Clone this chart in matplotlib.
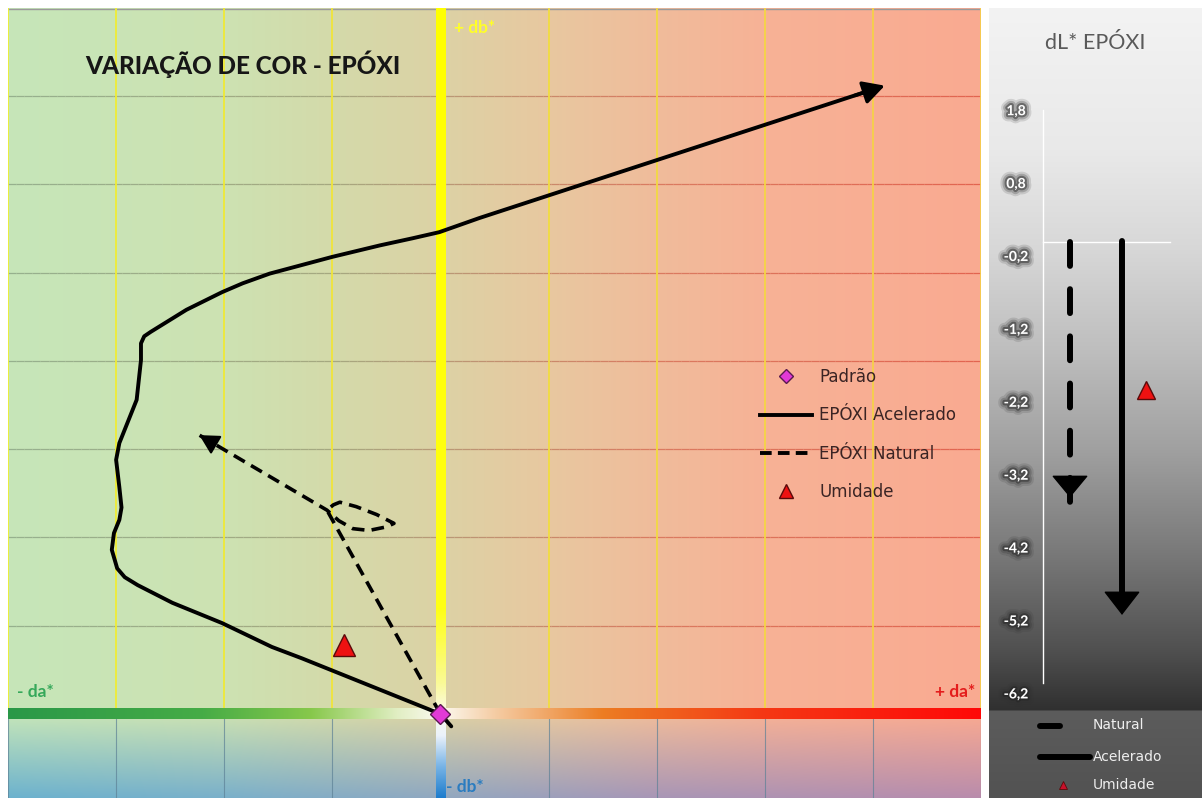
import numpy as np
import matplotlib
matplotlib.use("Agg")
import matplotlib.pyplot as plt
import matplotlib.patheffects as pe
from matplotlib.collections import LineCollection
from matplotlib.lines import Line2D

# ---------------- data ----------------
# colour change path in the da*/db* plane (accelerated weathering)
acc_da = [0.10, 0.00, -1.28, -1.56, -2.02, -2.48, -2.80, -2.92, -2.99, -3.04, -3.02, -2.97,
          -2.95, -2.97, -3.00, -2.97, -2.81, -2.77, -2.77, -2.74, -2.68, -2.35, -2.02, -1.83,
          -1.58, -1.00, -0.56, -0.26, -0.01, 0.36, 4.11]
acc_db = [-0.14, 0.00, 0.63, 0.76, 1.03, 1.26, 1.46, 1.55, 1.65, 1.86, 2.05, 2.20,
          2.34, 2.57, 2.88, 3.07, 3.56, 4.01, 4.20, 4.28, 4.33, 4.58, 4.78, 4.88,
          4.99, 5.18, 5.31, 5.39, 5.46, 5.62, 7.12]

# colour change path (natural weathering)
nat_da = [0.00, -1.05, -0.99, -0.93, -0.78, -0.59, -0.43, -0.50, -0.66, -0.81, -0.94, -1.05, -2.23]
nat_db = [0.00, 2.31, 2.37, 2.40, 2.35, 2.26, 2.16, 2.12, 2.08, 2.10, 2.19, 2.31, 3.16]

# reference sample and humidity exposure
ref_da, ref_db = 0.0, 0.0
hum_da, hum_db = -0.89, 0.78

# lightness change dL*
dl_natural = -3.5
dl_accel = -5.11
dl_humidity = -2.02
dl_ticks = [1.8, 0.8, -0.2, -1.2, -2.2, -3.2, -4.2, -5.2, -6.2]

legend_labels = ["Padrão", "EPÓXI Acelerado", "EPÓXI Natural", "Umidade"]
side_labels = ["Natural", "Acelerado", "Umidade"]

# ---------------- figure ----------------
W, H = 1202, 798
fig = plt.figure(figsize=(W / 100, H / 100), dpi=100)
fig.patch.set_facecolor("white")


def px_axes(x0, y0, x1, y1):
    return fig.add_axes([x0 / W, 1 - y1 / H, (x1 - x0) / W, (y1 - y0) / H])


def interp_colors(x, pos, cols):
    cols = np.asarray(cols, float) / 255.0
    return np.stack([np.interp(x, pos, cols[:, i]) for i in range(3)], axis=-1)


# ---------------- main da*/db* panel ----------------
XMIN, XMAX, YMIN, YMAX = -4.0, 5.0, -0.952, 8.0
ax = px_axes(8, 8, 981, 798)
ax.set_xlim(XMIN, XMAX)
ax.set_ylim(YMIN, YMAX)
ax.axis("off")

xs = np.linspace(XMIN, XMAX, 901)
ys = np.linspace(YMIN, YMAX, 800)
top_row = interp_colors(xs, [-4, -2, -1, 0, 1, 2, 3, 5],
                        [(198, 230, 185), (205, 226, 178), (212, 218, 170), (220, 210, 165),
                         (232, 200, 160), (240, 188, 155), (247, 178, 150), (250, 170, 145)])
bot_row = interp_colors(xs, [-4, -2, 0, 2, 5],
                        [(108, 178, 206), (122, 176, 202), (145, 168, 192), (168, 150, 182),
                         (185, 140, 172)])
t = np.clip(-ys / abs(YMIN), 0, 1)[:, None, None]
bg = np.where(ys[:, None, None] >= 0, top_row[None, :, :],
              (1 - t) * top_row[None, :, :] + t * bot_row[None, :, :])
ax.imshow(bg, origin="lower", extent=[XMIN, XMAX, YMIN, YMAX], aspect="auto",
          interpolation="bilinear", zorder=0)

# horizontal grid lines, tinted along their length
seg_x = np.linspace(XMIN, XMAX, 121)
seg_cols = interp_colors((seg_x[:-1] + seg_x[1:]) / 2, [-4, -1, 0, 2, 5],
                         [(150, 176, 142), (165, 168, 128), (185, 152, 118), (218, 122, 96),
                          (226, 100, 80)])
segs, cols = [], []
for yy in range(1, 8):
    for i in range(len(seg_x) - 1):
        segs.append([(seg_x[i], yy), (seg_x[i + 1], yy)])
        cols.append(seg_cols[i])
ax.add_collection(LineCollection(segs, colors=cols, linewidths=0.9, zorder=1))
ax.plot([XMIN, XMAX], [YMAX - 0.01, YMAX - 0.01], color="#9a9a9a", lw=1.0, zorder=1)

# vertical grid lines
vcols = interp_colors(np.arange(-4, 6), [-4, 0, 5],
                      [(238, 240, 50), (240, 225, 60), (246, 205, 75)])
for i, xx in enumerate(range(-4, 6)):
    if xx == 0:
        continue
    ax.plot([xx, xx], [0, YMAX], color=vcols[i], lw=1.3, zorder=1)
    ax.plot([xx, xx], [YMIN, 0], color="#5d8196", lw=0.8, alpha=0.7, zorder=1)

# central db* bar (yellow above, blue below)
bar_hw = 0.042
vy = np.linspace(YMIN, YMAX, 600)
vbar = interp_colors(vy, [YMIN, -0.6, -0.25, 0.0, 0.35, 1.2, YMAX],
                     [(30, 125, 205), (120, 180, 230), (235, 242, 250), (250, 250, 235),
                      (250, 250, 150), (255, 255, 20), (255, 255, 0)])
ax.imshow(vbar[:, None, :], origin="lower", extent=[-bar_hw, bar_hw, YMIN, YMAX],
          aspect="auto", interpolation="bilinear", zorder=2)

# da* bar (green - white - orange - red)
bar_hh = 0.057
hx = np.linspace(XMIN, XMAX, 900)
hbar = interp_colors(hx, [-4, -2.2, -1.2, -0.4, 0.0, 0.5, 1.5, 3.0, 5.0],
                     [(42, 152, 72), (70, 172, 70), (135, 200, 75), (225, 238, 195),
                      (252, 250, 240), (245, 205, 165), (236, 125, 35), (245, 55, 20),
                      (255, 8, 8)])
ax.imshow(hbar[None, :, :], origin="lower", extent=[XMIN, XMAX, -bar_hh, bar_hh],
          aspect="auto", interpolation="bilinear", zorder=2)
ax.set_xlim(XMIN, XMAX)
ax.set_ylim(YMIN, YMAX)

# accelerated path + arrow head
adx, ady = acc_da[-1] - acc_da[-2], acc_db[-1] - acc_db[-2]
anrm = np.hypot(adx, ady)
ax.plot(acc_da[:-1] + [acc_da[-1] - 0.12 * adx / anrm],
        acc_db[:-1] + [acc_db[-1] - 0.12 * ady / anrm],
        color="black", lw=2.8, solid_joinstyle="round", solid_capstyle="round", zorder=3)
ax.annotate("", xy=(acc_da[-1], acc_db[-1]),
            xytext=(acc_da[-1] - 0.3 * adx / anrm, acc_db[-1] - 0.3 * ady / anrm),
            arrowprops=dict(arrowstyle="-|>,head_length=1.3,head_width=0.7", mutation_scale=10,
                            color="black", lw=2.5, shrinkA=0, shrinkB=0), zorder=3)

# natural path + arrow head
ax.plot(nat_da, nat_db, color="black", lw=2.6, linestyle=(0, (3.5, 2.0)),
        solid_joinstyle="round", zorder=3)
dx, dy = nat_da[-1] - nat_da[-2], nat_db[-1] - nat_db[-2]
nrm = np.hypot(dx, dy)
ax.annotate("", xy=(nat_da[-1], nat_db[-1]),
            xytext=(nat_da[-1] - 0.15 * dx / nrm, nat_db[-1] - 0.15 * dy / nrm),
            arrowprops=dict(arrowstyle="-|>,head_length=1.2,head_width=0.65", mutation_scale=10,
                            color="black", lw=1.5, shrinkA=0, shrinkB=0), zorder=3)

# markers
ax.plot([ref_da], [ref_db], marker="D", ms=10, mfc="#e23ad6", mec="#5a1a50", mew=1.0,
        ls="none", zorder=4)
ax.plot([hum_da], [hum_db], marker="^", ms=16, mfc="#ee1111", mec="#5a0a0a", mew=1.0,
        ls="none", zorder=4)

# texts
ax.text(-1.83, 7.36, "VARIAÇÃO DE COR - EPÓXI", fontsize=17.5, fontweight="black",
        family="Lato", color="#161616", ha="center", va="center", zorder=5)
ax.text(0.13, 7.77, "+ db*", fontsize=12.5, fontweight="bold", family="Lato",
        color="#ffff28", ha="left", va="center", zorder=5)
ax.text(0.05, -0.83, "- db*", fontsize=12.5, fontweight="bold", family="Lato",
        color="#2a7cc0", ha="left", va="center", zorder=5)
ax.text(-3.92, 0.25, "- da*", fontsize=12.5, fontweight="bold", family="Lato",
        color="#35a85a", ha="left", va="center", zorder=5)
ax.text(4.95, 0.25, "+ da*", fontsize=12.5, fontweight="bold", family="Lato",
        color="#e41c1c", ha="right", va="center", zorder=5)

handles = [
    Line2D([], [], marker="D", ms=7, mfc="#e23ad6", mec="#5a1a50", mew=1.0, ls="none"),
    Line2D([], [], color="black", lw=2.8),
    Line2D([], [], color="black", lw=2.8, linestyle=(0, (3.0, 1.6))),
    Line2D([], [], marker="^", ms=10, mfc="#ee1111", mec="#5a0a0a", mew=1.0, ls="none"),
]
leg = ax.legend(handles, legend_labels, loc="upper left",
                bbox_to_anchor=(760 / W, 1 - 368 / H), bbox_transform=fig.transFigure,
                frameon=False, fontsize=12, handlelength=3.1, handletextpad=0.45,
                labelspacing=1.22, borderpad=0, borderaxespad=0)
for txt in leg.get_texts():
    txt.set_color("#3a2424")
leg.set_zorder(5)

# ---------------- dL* side panel ----------------
ax2 = px_axes(989, 8, 1202, 798)
Y0PX, SCALE = 242.4, 72.9  # pixel row of dL*=0 and pixels per unit


def pv(py):
    return (Y0PX - py) / SCALE


ax2.set_xlim(0, 213)
ax2.set_ylim(pv(798), pv(8))
ax2.axis("off")

rows = np.arange(8, 798)
gray = np.interp(rows, [8, 150, 250, 350, 450, 550, 650, 709, 711, 798],
                 [243, 233, 215, 190, 160, 122, 80, 48, 92, 82])
side_bg = np.repeat((gray / 255.0)[:, None, None], 3, axis=2)
ax2.imshow(side_bg, origin="upper", extent=[0, 213, pv(798), pv(8)], aspect="auto",
           interpolation="bilinear", zorder=0)
ax2.set_xlim(0, 213)
ax2.set_ylim(pv(798), pv(8))

ax2.text(106, pv(43), "dL* EPÓXI", fontsize=15.5, family="Lato", color="#5a5a5a",
         ha="center", va="center", zorder=5)

# axis lines
ax2.plot([54, 54], [1.82, -6.05], color="white", lw=1.0, zorder=1)
ax2.plot([54, 181], [0, 0], color="white", lw=1.0, zorder=1)

glow = [pe.Stroke(linewidth=9, foreground="#303030", alpha=0.15),
        pe.Stroke(linewidth=6, foreground="#303030", alpha=0.25),
        pe.Stroke(linewidth=3, foreground="#202020", alpha=0.45), pe.Normal()]
for v in dl_ticks:
    ax2.text(27, v, f"{v:.1f}".replace(".", ","), fontsize=10, fontweight="bold",
             family="Lato", color="white", ha="center", va="center", zorder=5,
             path_effects=glow)

# natural dL* arrow
ax2.plot([81, 81], [0, dl_natural - 0.25], color="black", lw=4.3,
         linestyle=(0, (4.0, 3.9)), dash_capstyle="round", zorder=3)
ax2.annotate("", xy=(81, dl_natural), xytext=(81, dl_natural + 0.2),
             arrowprops=dict(arrowstyle="-|>,head_length=1.45,head_width=1.2", mutation_scale=10,
                             color="black", lw=1, shrinkA=0, shrinkB=0), zorder=3)
# accelerated dL* arrow
ax2.plot([133, 133], [0.02, dl_accel + 0.25], color="black", lw=4.3,
         solid_capstyle="round", zorder=3)
ax2.annotate("", xy=(133, dl_accel), xytext=(133, dl_accel + 0.4),
             arrowprops=dict(arrowstyle="-|>,head_length=1.55,head_width=1.2", mutation_scale=10,
                             color="black", lw=1, shrinkA=0, shrinkB=0), zorder=3)
# humidity
ax2.plot([157], [dl_humidity], marker="^", ms=13, mfc="#ee1111", mec="#5a0a0a", mew=1.0,
         ls="none", zorder=4)

# side legend
ax2.plot([51, 71], [pv(726), pv(726)], color="black", lw=4.3, solid_capstyle="round", zorder=3)
ax2.plot([51, 101], [pv(757), pv(757)], color="black", lw=4.3, solid_capstyle="round", zorder=3)
ax2.plot([74], [pv(785)], marker="^", ms=6, mfc="#c8102a", mec="#5a0a0a", mew=0.6,
         ls="none", zorder=4)
for lab, py in zip(side_labels, [725, 757, 785]):
    ax2.text(104, pv(py), lab, fontsize=10, color="#eeeeee", ha="left", va="center", zorder=5)

fig.savefig("out.png", dpi=100, facecolor="white")
